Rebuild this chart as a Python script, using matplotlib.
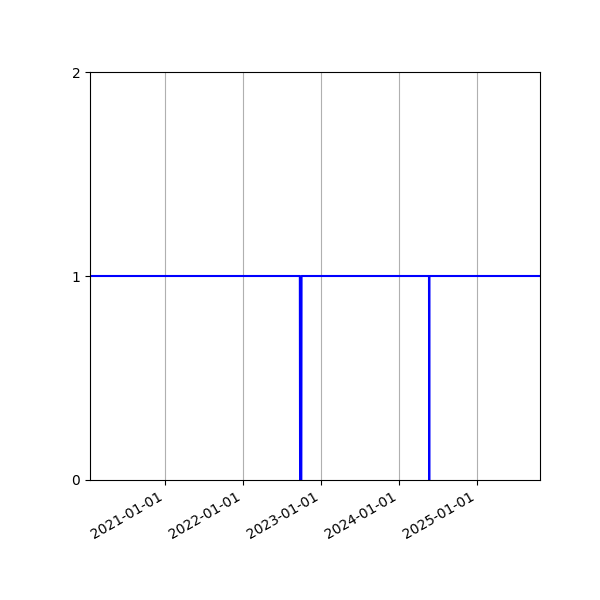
import numpy as np
import pandas as pd
import matplotlib
matplotlib.use("Agg")
import matplotlib.pyplot as plt
import matplotlib.dates as mdates

# status series (1 = up, 0 = down), break points only
dates = ["2019-12-01", "2022-09-23", "2022-09-24", "2022-09-30", "2022-10-01",
         "2024-05-20", "2024-05-21", "2024-05-22", "2025-12-31"]
values = [1, 1, 0, 0, 1, 1, 0, 1, 1]

x_start = "2020-01-14"
x_end = "2025-10-22"

dt = pd.to_datetime(dates)

fig, ax = plt.subplots(figsize=(6, 6), dpi=100)
ax.plot(dt, values, color="blue", lw=1.5)

ax.set_xlim(pd.Timestamp(x_start), pd.Timestamp(x_end))
ax.set_ylim(0, 2)
ax.set_yticks([0, 1, 2])
ax.xaxis.set_major_locator(mdates.YearLocator())
ax.xaxis.set_major_formatter(mdates.DateFormatter("%Y-%m-%d"))
ax.grid(True, axis="x")
fig.autofmt_xdate()
fig.subplots_adjust(left=0.15, right=0.9, top=0.88, bottom=0.2)

fig.savefig("out.png", dpi=100)
